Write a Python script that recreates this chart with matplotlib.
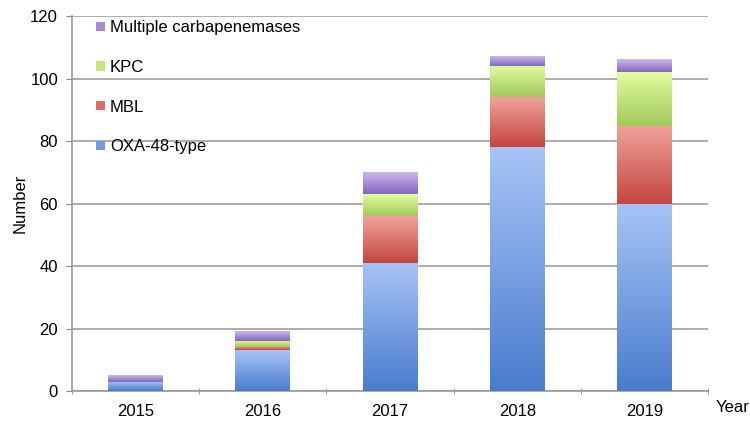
import numpy as np
import matplotlib.pyplot as plt
from matplotlib.colors import LinearSegmentedColormap
from matplotlib.patches import Patch

plt.rcParams['font.family'] = ['Liberation Sans', 'DejaVu Sans']

years = ['2015', '2016', '2017', '2018', '2019']
oxa48 = [3, 13, 41, 78, 60]
mbl = [0, 1, 15, 16, 25]
kpc = [0, 2, 7, 10, 17]
multiple = [2, 3, 7, 3, 4]

series = [
    ('OXA-48-type', oxa48, '#4a7ccd', '#a8c4f6', '#6f9be6'),
    ('MBL', mbl, '#c4463f', '#f1a29c', '#e06e68'),
    ('KPC', kpc, '#a3c85a', '#e2fda2', '#c4e67c'),
    ('Multiple carbapenemases', multiple, '#8466bd', '#cbb8ec', '#a68ad8'),
]

fig = plt.figure(figsize=(7.5, 4.26), dpi=100)
ax = fig.add_axes([0.096, 0.082, 0.848, 0.88])

x = np.arange(len(years))
width = 0.43
grad = np.linspace(0, 1, 256).reshape(-1, 1)
bottom = np.zeros(len(years))
handles = []
for name, vals, c_bot, c_top, c_leg in series:
    cmap = LinearSegmentedColormap.from_list(name, [c_bot, c_top])
    for i, v in enumerate(vals):
        if v <= 0:
            continue
        ax.imshow(grad, extent=[x[i] - width / 2, x[i] + width / 2, bottom[i], bottom[i] + v],
                  origin='lower', aspect='auto', cmap=cmap, zorder=3)
    bottom += np.array(vals)
    handles.append(Patch(facecolor=c_leg, label=name))

ax.set_xlim(-0.5, len(years) - 0.5)
ax.set_ylim(0, 120)
ax.set_yticks(range(0, 121, 20))
ax.yaxis.grid(True, color='#a0a0a0', linewidth=1.2, zorder=0)
ax.set_axisbelow(True)

ax.set_xticks(x)
ax.set_xticklabels(years, fontsize=12)
ax.set_xticks(np.arange(-0.5, len(years)), minor=True)
ax.tick_params(axis='x', which='major', length=0, pad=9)
ax.tick_params(axis='x', which='minor', length=4, color='#888888', direction='inout')
ax.tick_params(axis='y', length=4, color='#888888', labelsize=12, pad=6)

for s in ['top', 'right']:
    ax.spines[s].set_visible(False)
for s in ['left', 'bottom']:
    ax.spines[s].set_color('#999999')
    ax.spines[s].set_linewidth(1.2)

ax.set_ylabel('Number', fontsize=12, labelpad=2)
ax.text(1.012, -0.045, 'Year', transform=ax.transAxes, fontsize=12, va='center', ha='left')

leg = ax.legend(handles=handles[::-1], loc='upper left', bbox_to_anchor=(0.028, 1.007),
                frameon=False, fontsize=12, handlelength=0.5, handleheight=0.5,
                handletextpad=0.3, labelspacing=1.48, borderaxespad=0)

fig.savefig('out.png', dpi=100)
